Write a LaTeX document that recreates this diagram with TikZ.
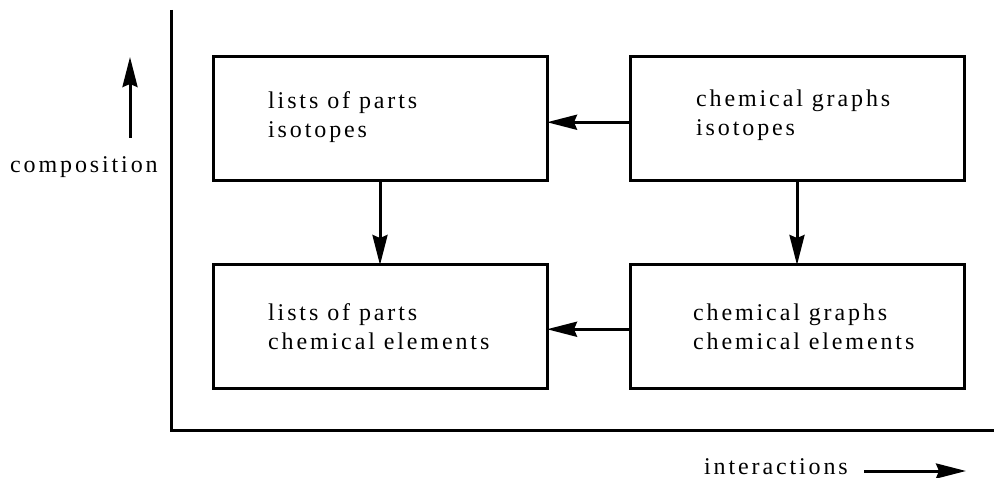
\documentclass[tikz,border=0pt]{standalone}
\usepackage{fontspec}
\setmainfont{Liberation Serif}[LetterSpace=12]
\usetikzlibrary{arrows.meta}
\begin{document}
\begin{tikzpicture}[x=1pt,y=-1pt,
  box/.style={draw, line width=3pt, minimum width=334pt, minimum height=123.5pt, inner sep=0pt, outer sep=0pt},
  txt/.style={anchor=base west, align=left, inner sep=0pt, font=\fontsize{24}{29}\selectfont},
  arr/.style={line width=3pt, -{Stealth[length=30pt,width=15pt,inset=3pt]}},
  axis/.style={line width=3pt}]
\useasboundingbox (0,0) rectangle (994,478);
% axes
\coordinate (axtop) at (171.5,10);
\coordinate (axright) at (994,431);
\draw[axis] (axtop) |- (axright);
% boxes
\node[box] (tl) at (380,118.75) {};
\node[box] (tr) at (797,118.75) {};
\node[box] (bl) at (380,326.75) {};
\node[box] (br) at (797,326.75) {};
% texts (anchor = baseline of last line)
\node[txt] (tlt) at (268,138) {lists of parts\\isotopes};
\node[txt] (trt) at (696,136) {chemical graphs\\isotopes};
\node[txt] (blt) at (268,350) {lists of parts\\chemical elements};
\node[txt] (brt) at (693,350) {chemical graphs\\chemical elements};
% connectors
\draw[arr] ([yshift=-3.5pt]tr.west) -- ([yshift=-3.5pt]tl.east);
\draw[arr] ([yshift=-2.5pt]br.west) -- ([yshift=-2.5pt]bl.east);
\draw[arr] (tl.south) -- (bl.north);
\draw[arr] (tr.south) -- (br.north);
% axis labels
\node[txt] (comp) at (10,173) {composition};
\coordinate (cb) at (130,138);
\coordinate (ct) at (130,57);
\draw[arr] (cb) -- (ct);
\node[txt, anchor=base east] (inter) at (848,474) {interactions};
\coordinate (ia) at (864,471);
\coordinate (ib) at (966,471);
\draw[arr] (ia) -- (ib);
\end{tikzpicture}
\end{document}
